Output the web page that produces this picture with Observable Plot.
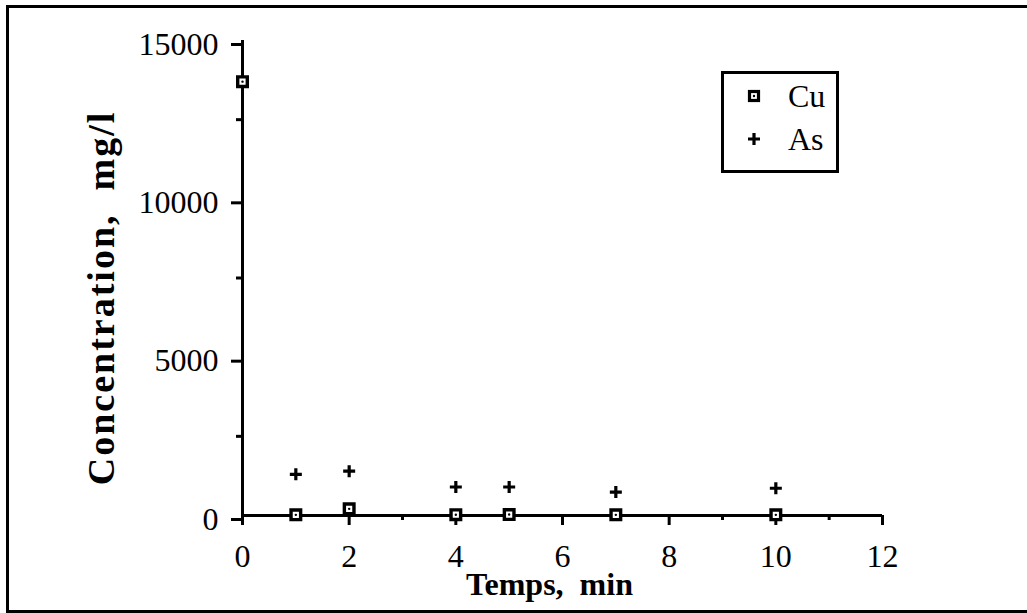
<!DOCTYPE html>
<html>
<head>
<meta charset="utf-8">
<script src="https://cdn.jsdelivr.net/npm/d3@7"></script>
<script src="https://cdn.jsdelivr.net/npm/@observablehq/plot@0.6"></script>
<style>
  html, body { margin: 0; padding: 0; background: #fff; overflow: hidden; }
  #wrap { position: relative; width: 1027px; height: 613px; }
  #frame { position: absolute; left: 6px; top: 5px; width: 1100px; height: 602px; border: 3px solid #000; pointer-events: none; }
  #legend { position: absolute; left: 721px; top: 71px; width: 112px; height: 96px; border: 3px solid #000; background: #fff;
            font-family: "Liberation Serif", serif; font-size: 32px; color: #000; }
  #legend .row { position: absolute; left: 0; height: 40px; width: 112px; }
  #legend svg { position: absolute; left: 21px; top: 11px; }
  #legend span { position: absolute; left: 64px; top: 0px; line-height: 40px; }
</style>
</head>
<body>
<div id="wrap">
  <div id="chart"></div>
  <div id="frame"></div>
  <div id="legend"></div>
</div>
<script>
// ---- data ----
const cuTimes = [0, 1, 2, 4, 5, 7, 10];
const cuValues = [13700, 20, 210, 25, 30, 20, 20];
const asTimes = [1, 2, 4, 5, 7, 10];
const asValues = [1300, 1400, 900, 900, 740, 860];
const seriesNames = ["Cu", "As"];
const xMajorTicks = [0, 2, 4, 6, 8, 10, 12];
const xMinorTicks = [1, 3, 5, 7, 9, 11];
const yMajorTicks = [0, 5000, 10000, 15000];
const yMinorTicks = [2500, 7500, 12500];
const xTitle = "Temps,\u00a0\u00a0min";
const yTitle = "Concentration,\u00a0\u00a0mg/l";

const cuData = cuTimes.map((t, i) => ({t, v: cuValues[i]}));
const asData = asTimes.map((t, i) => ({t, v: asValues[i]}));

const squareSym = { draw(ctx, size) { const r = Math.sqrt(size / Math.PI); ctx.rect(-r, -r, 2 * r, 2 * r); } };
const plusSym = { draw(ctx, size) { const r = Math.sqrt(size / Math.PI); ctx.moveTo(-r, 0); ctx.lineTo(r, 0); ctx.moveTo(0, -r); ctx.lineTo(0, r); } };

const chart = Plot.plot({
  width: 1027,
  height: 613,
  marginLeft: 242,
  marginRight: 145,
  marginTop: 40,
  marginBottom: 98,
  x: { domain: [0, 12], label: null },
  y: { domain: [0, 15000], label: null },
  style: { fontFamily: "Liberation Serif, serif", fontSize: "32px", color: "#000", background: "transparent", overflow: "visible" },
  marks: [
    Plot.axisX({ ticks: xMajorTicks, tickSize: 10, tickPadding: 19, strokeWidth: 3, tickFormat: d => String(d), label: null }),
    Plot.axisX({ ticks: xMinorTicks, tickSize: 5, strokeWidth: 3, tickFormat: () => "", label: null }),
    Plot.axisY({ ticks: yMajorTicks, tickSize: 11, tickPadding: 13, strokeWidth: 3, dy: 4, tickFormat: d => String(d), label: null }),
    Plot.axisY({ ticks: yMinorTicks, tickSize: 6, strokeWidth: 3, tickFormat: () => "", label: null }),
    Plot.ruleX([0], { y1: 0, y2: 15000, stroke: "#000", strokeWidth: 3 }),
    Plot.ruleY([0], { x1: 0, x2: 12, stroke: "#000", strokeWidth: 3 }),
    Plot.dot(asData, { x: "t", y: "v", symbol: plusSym, r: 6, fill: "none", stroke: "#000", strokeWidth: 3.2 }),
    Plot.dot(cuData, { x: "t", y: "v", symbol: squareSym, r: 4.8, fill: "#fff", stroke: "#000", strokeWidth: 3.4 }),
    Plot.dot(cuData, { x: "t", y: "v", r: 1.2, fill: "#000", stroke: null }),
    Plot.text([yTitle], { frameAnchor: "left", textAnchor: "middle", lineAnchor: "middle", dx: -141, dy: 20, rotate: -90, fontSize: 38, fontWeight: "bold", fill: "#000", ariaLabel: "ytitle" }),
    Plot.text([xTitle], { frameAnchor: "bottom", textAnchor: "middle", lineAnchor: "middle", dx: -13, dy: 69, fontSize: 32, fontWeight: "bold", fill: "#000" })
  ]
});
// widen the y title's letter spacing (the original's bold face is wider)
chart.querySelectorAll("text").forEach(t => {
  if (t.textContent === yTitle) t.style.letterSpacing = "2px";
});
document.getElementById("chart").append(chart);

// legend
const legend = document.getElementById("legend");
seriesNames.forEach((name, i) => {
  const row = document.createElement("div");
  row.className = "row";
  row.style.top = (i === 0 ? 2 : 45) + "px";
  const sym = name === "Cu"
    ? '<svg width="18" height="18" viewBox="-9 -9 18 18"><rect x="-4.5" y="-4.5" width="9" height="9" fill="#fff" stroke="#000" stroke-width="3.2"/><circle r="1.2" fill="#000"/></svg>'
    : '<svg width="18" height="18" viewBox="-9 -9 18 18"><path d="M-6,0H6M0,-6V6" stroke="#000" stroke-width="3.2"/></svg>';
  row.innerHTML = sym + '<span>' + name + '</span>';
  legend.append(row);
});
</script>
</body>
</html>
